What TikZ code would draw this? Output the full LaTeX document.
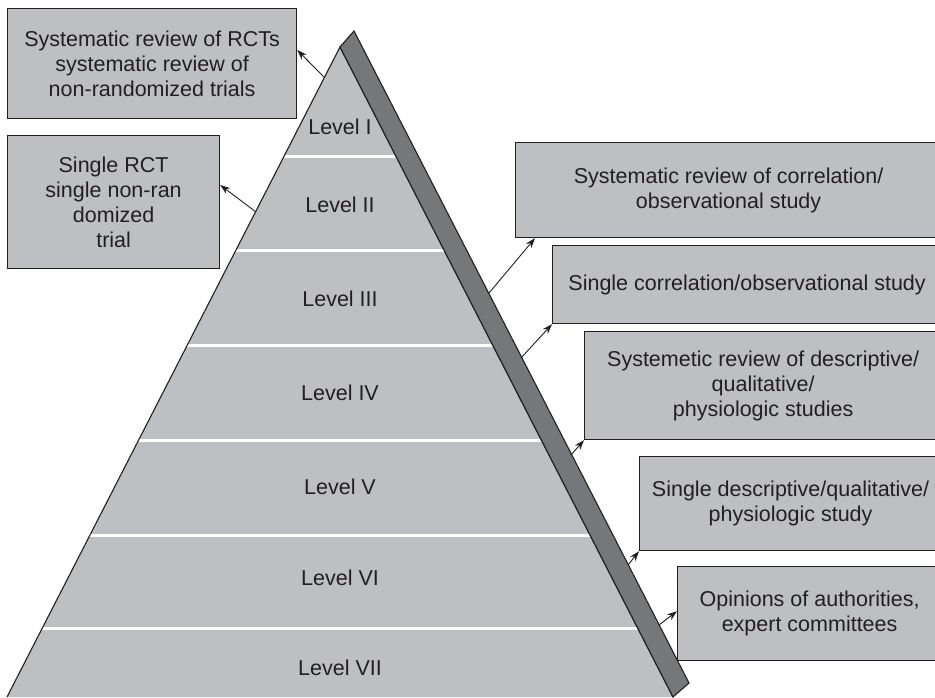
\documentclass[tikz,border=0pt]{standalone}
\usepackage{fontspec}
\setmainfont{Liberation Sans}
\usetikzlibrary{arrows.meta,calc}
\definecolor{panel}{HTML}{BEBFC2}
\definecolor{side}{HTML}{76777B}
\definecolor{ink}{HTML}{231F20}

\begin{document}
\begin{tikzpicture}[x=1pt,y=-1pt,
  every node/.style={font=\fontsize{21.5}{25}\selectfont, text=ink},
  infobox/.style={draw=ink, line width=1.2pt, fill=panel, rectangle,
                  anchor=north west, align=center, inner sep=0pt},
  tierlabel/.style={anchor=center},
  link/.style={draw=ink, line width=0.9pt, -{Stealth[length=10pt,width=7pt]}},
  edge line/.style={draw=ink, line width=1.1pt, line join=miter}]

\useasboundingbox (0,0) rectangle (935,698);
\clip (0,0) rectangle (935,698);

% pyramid corners
\coordinate (apex) at (340,47);
\coordinate (bl) at (7,697);
\coordinate (br) at (673,697);
\coordinate (topback) at (354,31);
\coordinate (brback) at (689,683);

% front face
\fill[panel] (apex) -- (br) -- (bl) -- cycle;
\begin{scope}
  \clip (apex) -- (br) -- (bl) -- cycle;
  \foreach \yy in {157,250,345,440,535,628}
    \draw[white, line width=3pt] (0,\yy) -- (700,\yy);
\end{scope}
\draw[edge line] (bl) -- (apex) -- (br);

% side strip
\filldraw[fill=side, edge line] (apex) -- (topback) -- (brback) -- (br) -- cycle;

% level labels
\node[tierlabel] (l1) at (340,127) {Level I};
\node[tierlabel] (l2) at (340,205) {Level II};
\node[tierlabel] (l3) at (340,299) {Level III};
\node[tierlabel] (l4) at (340,393) {Level IV};
\node[tierlabel] (l5) at (340,487) {Level V};
\node[tierlabel] (l6) at (340,578) {Level VI};
\node[tierlabel] (l7) at (340,668) {Level VII};

% evidence boxes
\node[infobox, minimum width=289pt, minimum height=110pt] (b1) at (7,8)
  {Systematic review of RCTs\\systematic review of\\non-randomized trials};
\node[infobox, minimum width=212pt, minimum height=133pt] (b2) at (7,135)
  {Single RCT\\single non-ran\\domized\\trial};
\node[infobox, minimum width=426pt, minimum height=95pt] (b3) at (515,142)
  {Systematic review of correlation/\\observational study};
\node[infobox, minimum width=389pt, minimum height=78pt] (b4) at (552,245)
  {Single correlation/observational study};
\node[infobox, minimum width=357pt, minimum height=108pt] (b5) at (584,331)
  {Systemetic review of descriptive/\\qualitative/\\physiologic studies};
\node[infobox, minimum width=302pt, minimum height=94pt] (b6) at (639,456)
  {Single descriptive/qualitative/\\physiologic study};
\node[infobox, minimum width=264pt, minimum height=94pt] (b7) at (677,566)
  {Opinions of authorities,\\expert committees};

% arrow origins on the pyramid edges
\coordinate (s1) at (324,77);
\coordinate (s2) at (256,212);
\coordinate (s3) at (489,293);
\coordinate (s4) at (521,358);
\coordinate (s5) at (571,455);
\coordinate (s6) at (628,565);
\coordinate (s7) at (659,625);

\draw[link] (s1) -- ([yshift=-42pt]b1.north east);
\draw[link] (s2) -- ([yshift=-50pt]b2.north east);
\draw[link] (s3) -- ([xshift=20pt]b3.south west);
\draw[link] (s4) -- (b4.south west);
\draw[link] (s5) -- (b5.south west);
\draw[link] (s6) -- (b6.south west);
\draw[link] (s7) -- ([yshift=50pt]b7.south west);
\end{tikzpicture}
\end{document}
